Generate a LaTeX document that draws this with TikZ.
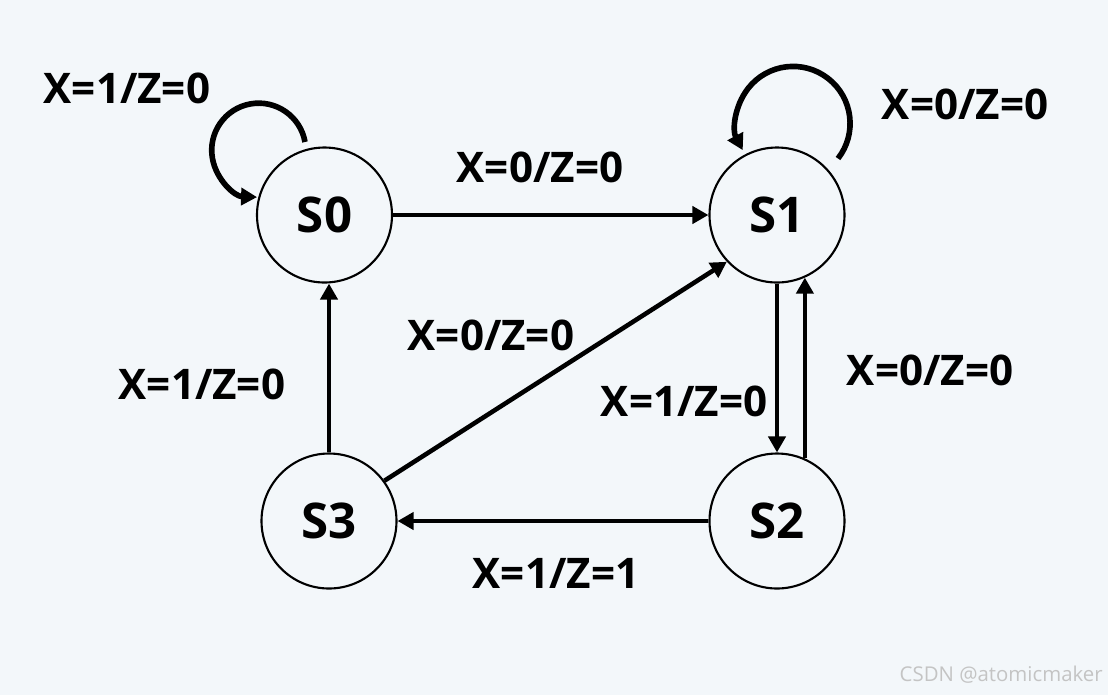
\documentclass[tikz,border=0pt]{standalone}
\usepackage{fontspec}
\setmainfont{Open Sans}
\usepackage{tikz}
\usetikzlibrary{arrows.meta,positioning,calc}
\definecolor{bgpaper}{RGB}{243,247,250}
\definecolor{markgray}{RGB}{196,196,196}
\tikzset{
  state/.style={circle, draw=black, line width=1.2pt, minimum size=2.7cm,
    inner sep=0pt, font=\fontsize{28}{30}\selectfont\bfseries},
  lbl/.style={font=\fontsize{24}{26}\selectfont\bfseries, inner sep=0pt},
  flow/.style={-{Triangle[length=3.2mm,width=3.4mm]}, line width=2.6pt, draw=black},
  selfflow/.style={flow, line width=3.2pt},
}

\begin{document}
\begin{tikzpicture}
  \fill[bgpaper] (0,0) rectangle (22.16,-13.9);
  \useasboundingbox (0,0) rectangle (22.16,-13.9);
  % states
  \node[state] (s0) at (6.49,-4.30) {S0};
  \node[state] (s1) at (15.54,-4.30) {S1};
  \node[state] (s2) at (15.54,-10.42) {S2};
  \node[state] (s3) at (6.58,-10.42) {S3};
  % transitions
  \draw[flow] (s0) -- (s1);
  \draw[flow] (s1) -- (s2);
  \draw[flow] (s2.66) -- (s1.-66);
  \draw[flow] (s2) -- (s3);
  \draw[flow] (s3.north) -- (s3.north |- s0.south);
  \draw[flow] (s3.36) -- (s1.223);
  % self loops
  \draw[selfflow] ([shift={(-0.39,1.46)}]s0.center) arc[start angle=10, end angle=268, radius=0.94];
  \draw[selfflow] ([shift={(1.22,1.13)}]s1.center) arc[start angle=-38, end angle=208, radius=1.14];
  % labels
  \node[lbl] (l00) at (2.54,-1.76) {X=1/Z=0};
  \node[lbl] (l01) at (10.80,-3.34) {X=0/Z=0};
  \node[lbl] (l11) at (19.30,-2.08) {X=0/Z=0};
  \node[lbl] (l31) at (9.82,-6.70) {X=0/Z=0};
  \node[lbl] (l30) at (4.04,-7.68) {X=1/Z=0};
  \node[lbl] (l12) at (13.68,-8.02) {X=1/Z=0};
  \node[lbl] (l21) at (18.60,-7.40) {X=0/Z=0};
  \node[lbl] (l23) at (11.12,-11.46) {X=1/Z=1};
  % watermark
  \node[font=\fontsize{11.6}{13}\selectfont, text=markgray, inner sep=0pt, anchor=east] (mark) at (22.06,-13.5) {CSDN @atomicmaker};
\end{tikzpicture}
\end{document}
